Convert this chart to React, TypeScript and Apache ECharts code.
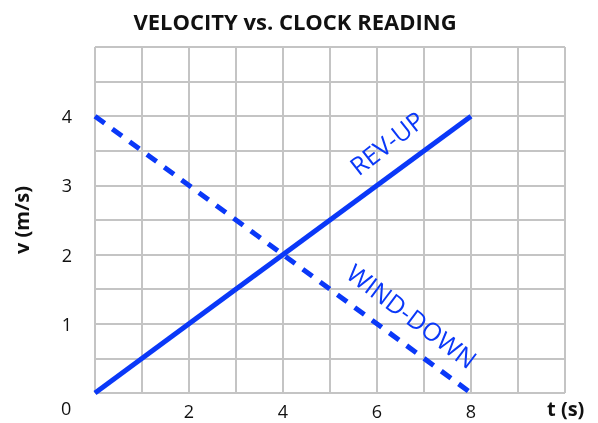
import React, { useEffect, useRef } from "react";
import * as echarts from "echarts";

const revUpT = [0, 8];
const revUpV = [0, 4];
const windDownT = [0, 8];
const windDownV = [4, 0];
const xTicksShown = [2, 4, 6, 8];
const yTicksShown = [1, 2, 3, 4];
const BLUE = "#0a38f8";
const FONT = "'Open Sans', 'Noto Sans', sans-serif";

export default function App() {
  const ref = useRef<HTMLDivElement>(null);
  useEffect(() => {
    const chart = echarts.init(ref.current!, null, { renderer: "svg" });
    const pairs = (xs: number[], ys: number[]) => xs.map((x, i) => [x, ys[i]]);
    chart.setOption({
      animation: false,
      title: {
        text: "VELOCITY vs. CLOCK READING",
        left: 290,
        textAlign: "center",
        top: 5,
        textStyle: { fontFamily: FONT, fontSize: 22, fontWeight: "bold", color: "#111" },
      },
      grid: { left: 95, right: 33, top: 47, bottom: 30 },
      xAxis: {
        type: "value",
        min: 0,
        max: 10,
        interval: 1,
        axisLine: { show: false },
        axisTick: { show: false },
        splitLine: { show: true, lineStyle: { color: "#c4c4c4", width: 2 } },
        axisLabel: {
          margin: 9,
          fontFamily: FONT,
          fontSize: 18,
          color: "#111",
          formatter: (v: number) => (xTicksShown.includes(v) ? String(v) : ""),
        },
      },
      yAxis: {
        type: "value",
        min: 0,
        max: 5,
        interval: 0.5,
        name: "v (m/s)",
        nameLocation: "middle",
        nameRotate: 90,
        nameGap: 64,
        nameTextStyle: { fontFamily: FONT, fontSize: 20, fontWeight: "bold", color: "#111" },
        axisLine: { show: false },
        axisTick: { show: false },
        splitLine: { show: true, lineStyle: { color: "#c4c4c4", width: 2 } },
        axisLabel: {
          margin: 23,
          fontFamily: FONT,
          fontSize: 18,
          color: "#111",
          formatter: (v: number) => (yTicksShown.includes(v) ? String(v) : ""),
        },
      },
      graphic: [
        {
          type: "text",
          left: 61,
          top: 399,
          style: { text: "0", fontFamily: FONT, fontSize: 18, fill: "#111" },
        },
        {
          type: "text",
          left: 547,
          top: 398,
          style: { text: "t (s)", fontFamily: FONT, fontSize: 20, fontWeight: "bold", fill: "#111" },
        },
      ],
      series: [
        {
          type: "line",
          data: pairs(revUpT, revUpV),
          symbol: "none",
          lineStyle: { color: BLUE, width: 5 },
        },
        {
          type: "line",
          data: pairs(windDownT, windDownV),
          symbol: "none",
          lineStyle: { color: BLUE, width: 5, type: [12, 9.5] },
        },
        {
          type: "scatter",
          symbolSize: 0,
          itemStyle: { opacity: 1 },
          data: [
            { value: [6.2, 3.62], name: "REV-UP", rot: 38 },
            { value: [6.75, 1.12], name: "WIND-DOWN", rot: -37 },
          ].map((d) => ({
            value: d.value,
            label: {
              show: true,
              position: "inside",
              formatter: d.name,
              rotate: d.rot,
              fontFamily: FONT,
              fontSize: 25,
              color: BLUE,
              opacity: 1,
              textBorderWidth: 0,
            },
          })),
        },
      ],
    });
    return () => chart.dispose();
  }, []);
  return <div ref={ref} style={{ position: "fixed", left: 0, top: 0, width: 598, height: 423 }} />;
}
